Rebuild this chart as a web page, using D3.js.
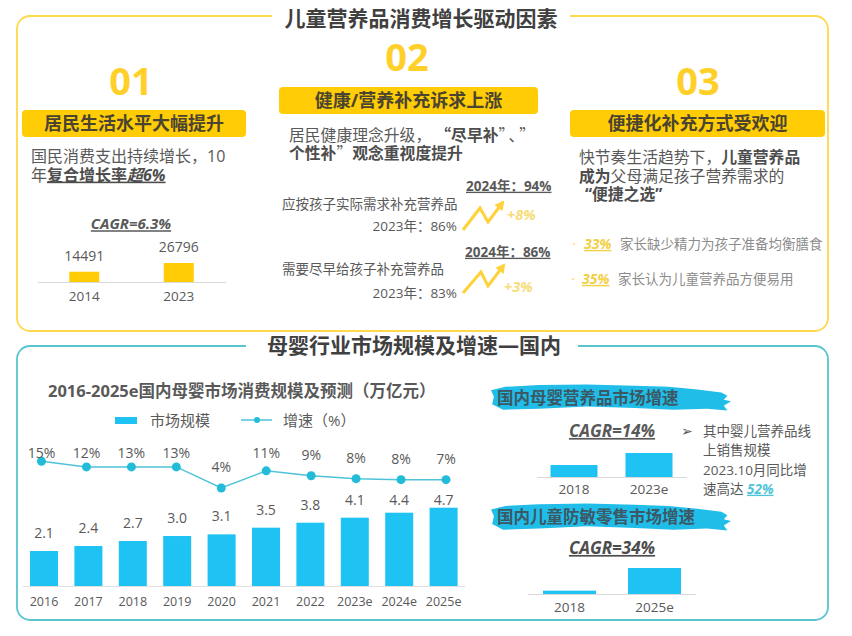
<!DOCTYPE html>
<html><head><meta charset="utf-8">
<script src="https://cdn.jsdelivr.net/npm/d3@7/dist/d3.min.js"></script>
<style>
html,body{margin:0;padding:0;background:#fff}
svg{display:block}
text{font-family:"Open Sans","Noto Sans CJK SC",sans-serif;fill:#595959}
</style></head><body>
<svg id="c" width="852" height="636"></svg>
<script>
// ---- data ----
const marketYears = ["2016","2017","2018","2019","2020","2021","2022","2023e","2024e","2025e"];
const marketSize = [2.1,2.4,2.7,3.0,3.1,3.5,3.8,4.1,4.4,4.7];
const marketSizeLabels = ["2.1","2.4","2.7","3.0","3.1","3.5","3.8","4.1","4.4","4.7"];
const growth = [14.9,12.6,12.6,12.6,4,11,9,7.8,7.4,7.4];
const growthLabels = ["15%","12%","13%","13%","4%","11%","9%","8%","8%","7%"];
const incomeYears = ["2014","2023"];
const incomeValues = [14491,26796];
const nutritionYears = ["2018","2023e"];
const nutritionValues = [1,2];
const allergyYears = ["2018","2025e"];
const allergyValues = [1,7.8];
const legendNames = ["市场规模","增速（%）"];

const YEL="#FFCC05", BLUE="#1FC3F3", TEAL="#5AC4CF", DARK="#4d4d4d", GREY="#595959";
const svg=d3.select("#c");

function label(x,y,str,o={}){
  return svg.append("text").attr("x",x).attr("y",y).attr("dy",".35em")
    .attr("text-anchor",o.anchor||"middle").attr("font-size",o.size||13)
    .attr("font-weight",o.bold?700:400).attr("font-style",o.italic?"italic":"normal")
    .style("fill",o.color||GREY).style("text-decoration",o.underline?"underline":"none").text(str);
}
function rich(x,y,runs,size){
  const t=svg.append("text").attr("x",x).attr("y",y).attr("dy",".35em").attr("font-size",size);
  runs.forEach(r=>t.append("tspan").text(r.t).attr("dx",r.gap||null)
    .attr("font-weight",r.b?700:400).attr("font-style",r.i?"italic":"normal")
    .style("font-family",r.cjk?'"Noto Sans CJK SC"':null)
    .style("fill",r.c||(r.b?DARK:GREY)).style("text-decoration",r.u?"underline":"none"));
}
function panel(x,y,w,h,color,gapA,gapB){
  const r=13,p=d3.path();
  p.moveTo(gapA,y);p.lineTo(x+r,y);p.arcTo(x,y,x,y+r,r);p.lineTo(x,y+h-r);p.arcTo(x,y+h,x+r,y+h,r);
  p.lineTo(x+w-r,y+h);p.arcTo(x+w,y+h,x+w,y+h-r,r);p.lineTo(x+w,y+r);p.arcTo(x+w,y,x+w-r,y,r);p.lineTo(gapB,y);
  svg.append("path").attr("d",p.toString()).attr("fill","none").attr("stroke",color).attr("stroke-width",1.8);
}
function banner(x,y,w,h,str,size){
  svg.append("rect").attr("x",x).attr("y",y).attr("width",w).attr("height",h).attr("rx",4).attr("fill",YEL);
  label(x+w/2,y+h/2,str,{size,bold:true,color:"#4a4430"});
}
function miniBars(names,vals,range,base,maxH,barFrac,color,axisX,labelY,labelSize){
  const x=d3.scaleBand().domain(names).range(range).paddingInner(1-barFrac).paddingOuter((1-barFrac)/2);
  const y=d3.scaleLinear().domain([0,d3.max(vals)]).range([base,base-maxH]);
  svg.append("g").selectAll("rect").data(vals).join("rect")
    .attr("x",(d,i)=>x(names[i])).attr("width",x.bandwidth())
    .attr("y",d=>y(d)).attr("height",d=>base-y(d)).attr("fill",color);
  svg.append("line").attr("x1",axisX[0]).attr("x2",axisX[1]).attr("y1",base+.5).attr("y2",base+.5).attr("stroke","#d9d9d9");
  names.forEach(n=>label(x(n)+x.bandwidth()/2,labelY,n,{size:labelSize}));
  return {x,y};
}
function brush(x,y,w,h,str){
  // hand-shaped brush stroke decoration
  const pts=[[0,.22],[.06,.1],[.2,.04],[.4,.02],[.6,.06],[.74,.1],[.86,.2],[.96,.3],[.985,.42],[.97,.56],[1,.62],[.97,.78],[.985,.95],[.9,.88],[.76,.92],[.6,.86],[.4,.8],[.2,.88],[.05,.92],[.005,.72],[.012,.45]];
  svg.append("path").attr("d",d3.line().curve(d3.curveLinearClosed)(pts.map(p=>[x+p[0]*w,y+p[1]*h]))).attr("fill","#20BDE8");
  label(x+6,y+h/2,str,{anchor:"start",size:16.5,bold:true,color:"#3c5864"});
}
function zig(pts){
  const Y="#FFD23A";
  svg.append("path").attr("d",d3.line()(pts)).attr("fill","none").attr("stroke",Y).attr("stroke-width",3);
  const [a,b]=[pts[pts.length-2],pts[pts.length-1]], ang=Math.atan2(b[1]-a[1],b[0]-a[0]);
  const s=9, tri=[[b[0]+2*Math.cos(ang),b[1]+2*Math.sin(ang)],
    [b[0]-s*Math.cos(ang-.6),b[1]-s*Math.sin(ang-.6)],[b[0]-s*Math.cos(ang+.6),b[1]-s*Math.sin(ang+.6)]];
  svg.append("path").attr("d",d3.line()(tri)+"Z").attr("fill",Y);
}

// ---- panels ----
panel(17,16,811,315,"#FFD84D",272,570);
panel(17,346,811,274,TEAL,246,578);
label(421,19,"儿童营养品消费增长驱动因素",{size:21,bold:true,color:"#404040"});
label(414,346,"母婴行业市场规模及增速—国内",{size:21,bold:true,color:"#404040"});

// ---- section 01 ----
label(131,82,"01",{size:38,bold:true,color:"#FFD02A"});
banner(22,110,224,27,"居民生活水平大幅提升",18);
rich(31,156,[{t:"国民消费支出持续增长，10"}],16);
rich(31,175,[{t:"年"},{t:"复合增长率",b:1,u:1},{t:"超6%",b:1,i:1,u:1}],16);
label(131,224,"CAGR=6.3%",{size:15,bold:true,italic:true,underline:true});
const inc=miniBars(incomeYears,incomeValues,[37,226],282,19,30/94.5,YEL,[38,226],296,13.5);
incomeValues.forEach((v,i)=>label(inc.x(incomeYears[i])+inc.x.bandwidth()/2,inc.y(v)-16,String(v),{size:14}));

// ---- section 02 ----
label(407,58,"02",{size:38,bold:true,color:"#FFD02A"});
banner(279,87,259,27,"健康/营养补充诉求上涨",18);
rich(289,135,[{t:"居民健康理念升级，"},{t:"“尽早补",b:1,cjk:1,gap:12},{t:"”",cjk:1},{t:"、",cjk:1,gap:2},{t:"”",cjk:1,gap:3}],15.8);
rich(289,153,[{t:"个性补",b:1},{t:"”",cjk:1},{t:"观念重视度提升",b:1}],15.8);
label(282,204,"应按孩子实际需求补充营养品",{anchor:"start",size:13.5});
label(457,226,"2023年：86%",{anchor:"end",size:13.5});
label(282,269,"需要尽早给孩子补充营养品",{anchor:"start",size:13.5});
label(457,293,"2023年：83%",{anchor:"end",size:13.5});
label(466,186,"2024年：94%",{anchor:"start",size:13.5,bold:true,underline:true});
label(465,252,"2024年：86%",{anchor:"start",size:13.5,bold:true,underline:true});
zig([[463,230],[480,208],[488,222],[503,202]]);
zig([[463,293],[481,272],[488,286],[504,265]]);
label(507,215,"+8%",{anchor:"start",size:14.5,bold:true,italic:true,color:"#F7DC7A"});
label(504,287,"+3%",{anchor:"start",size:14.5,bold:true,italic:true,color:"#F7DC7A"});

// ---- section 03 ----
label(698,82,"03",{size:38,bold:true,color:"#FFD02A"});
banner(570,110,255,27,"便捷化补充方式受欢迎",18);
rich(579,157,[{t:"快节奏生活趋势下，"},{t:"儿童营养品",b:1}],15.8);
rich(579,176,[{t:"成为",b:1},{t:"父母满足孩子营养需求的"}],15.8);
rich(585,194,[{t:"“便捷之选”",b:1}],15.8);
label(574,244,"•",{size:8,color:"#FFD84D"});
label(584,244,"33%",{anchor:"start",size:14,bold:true,italic:true,underline:true,color:"#F2CF45"});
label(620,244,"家长缺少精力为孩子准备均衡膳食",{anchor:"start",size:13.5,color:"#8c8c8c"});
label(573,279,"•",{size:8,color:"#FFD84D"});
label(582,279,"35%",{anchor:"start",size:14,bold:true,italic:true,underline:true,color:"#F2CF45"});
label(618,279,"家长认为儿童营养品方便易用",{anchor:"start",size:13.5,color:"#8c8c8c"});

// ---- main market chart ----
label(48,391,"2016-2025e国内母婴市场消费规模及预测（万亿元）",{anchor:"start",size:16.5,bold:true});
svg.append("rect").attr("x",115).attr("y",417).attr("width",22).attr("height",7).attr("fill",BLUE);
label(150,421,legendNames[0],{anchor:"start",size:15});
svg.append("line").attr("x1",241).attr("x2",272).attr("y1",420).attr("y2",420).attr("stroke","#4FC3D8").attr("stroke-width",1.5);
svg.append("circle").attr("cx",257).attr("cy",420).attr("r",3).attr("fill","#22BCD9");
label(283,421,legendNames[1],{anchor:"start",size:15});

const bw=28/44.4;
const xM=d3.scaleBand().domain(marketYears).range([21.8,465.8]).paddingInner(1-bw).paddingOuter((1-bw)/2);
const xG=d3.scalePoint().domain(marketYears).range([41.5,446]);
const yM=d3.scaleLinear().domain([0,4.7]).range([586,507.7]);
const yG=d3.scaleLinear().domain([4,15]).range([488,461]);
const cx=d=>xM(d)+xM.bandwidth()/2;
svg.append("g").selectAll("rect").data(marketSize).join("rect")
  .attr("x",(d,i)=>xM(marketYears[i])).attr("width",xM.bandwidth())
  .attr("y",d=>yM(d)).attr("height",d=>586-yM(d)).attr("fill",BLUE);
const ax=svg.append("g").attr("transform","translate(0,586.5)").call(d3.axisBottom(xM).tickSize(0).tickPadding(11));
ax.select(".domain").attr("stroke","#e0e0e0").attr("d","M23,0H465");
ax.selectAll("text").attr("font-size",12.5).attr("font-family",null).style("fill",GREY);
marketSize.forEach((v,i)=>label(cx(marketYears[i]),Math.max(500,yM(v)-18),marketSizeLabels[i],{size:14}));
svg.append("path").attr("d",d3.line().x((d,i)=>xG(marketYears[i])).y(d=>yG(d))(growth))
  .attr("fill","none").attr("stroke","#4FC3D8").attr("stroke-width",1.5);
svg.append("g").selectAll("circle").data(growth).join("circle")
  .attr("cx",(d,i)=>xG(marketYears[i])).attr("cy",d=>yG(d)).attr("r",4.5).attr("fill","#22BCD9");
growth.forEach((v,i)=>label(xG(marketYears[i]),Math.max(453,yG(v)-21),growthLabels[i],{size:14}));

// ---- right-hand mini charts ----
brush(491,384,240,28,"国内母婴营养品市场增速");
label(612,431,"CAGR=14%",{size:17,bold:true,italic:true,underline:true});
miniBars(nutritionYears,nutritionValues,[536.5,686.5],477,24,47/75,BLUE,[537,687],489,13.5);
label(687,431,"➢",{size:14});
label(703,431,"其中婴儿营养品线",{anchor:"start",size:13.5});
label(703,450,"上销售规模",{anchor:"start",size:13.5});
label(703,470,"2023.10月同比增",{anchor:"start",size:13.5});
rich(703,489,[{t:"速高达 "},{t:"52%",b:1,i:1,u:1,c:"#4FC3D8"}],13.5);
brush(491,503,240,29,"国内儿童防敏零售市场增速");
label(612,548,"CAGR=34%",{size:17,bold:true,italic:true,underline:true,color:"#4d4d4d"});
miniBars(allergyYears,allergyValues,[527,697],594,26,53/85,BLUE,[528,696],607,13.5);
</script></body></html>
